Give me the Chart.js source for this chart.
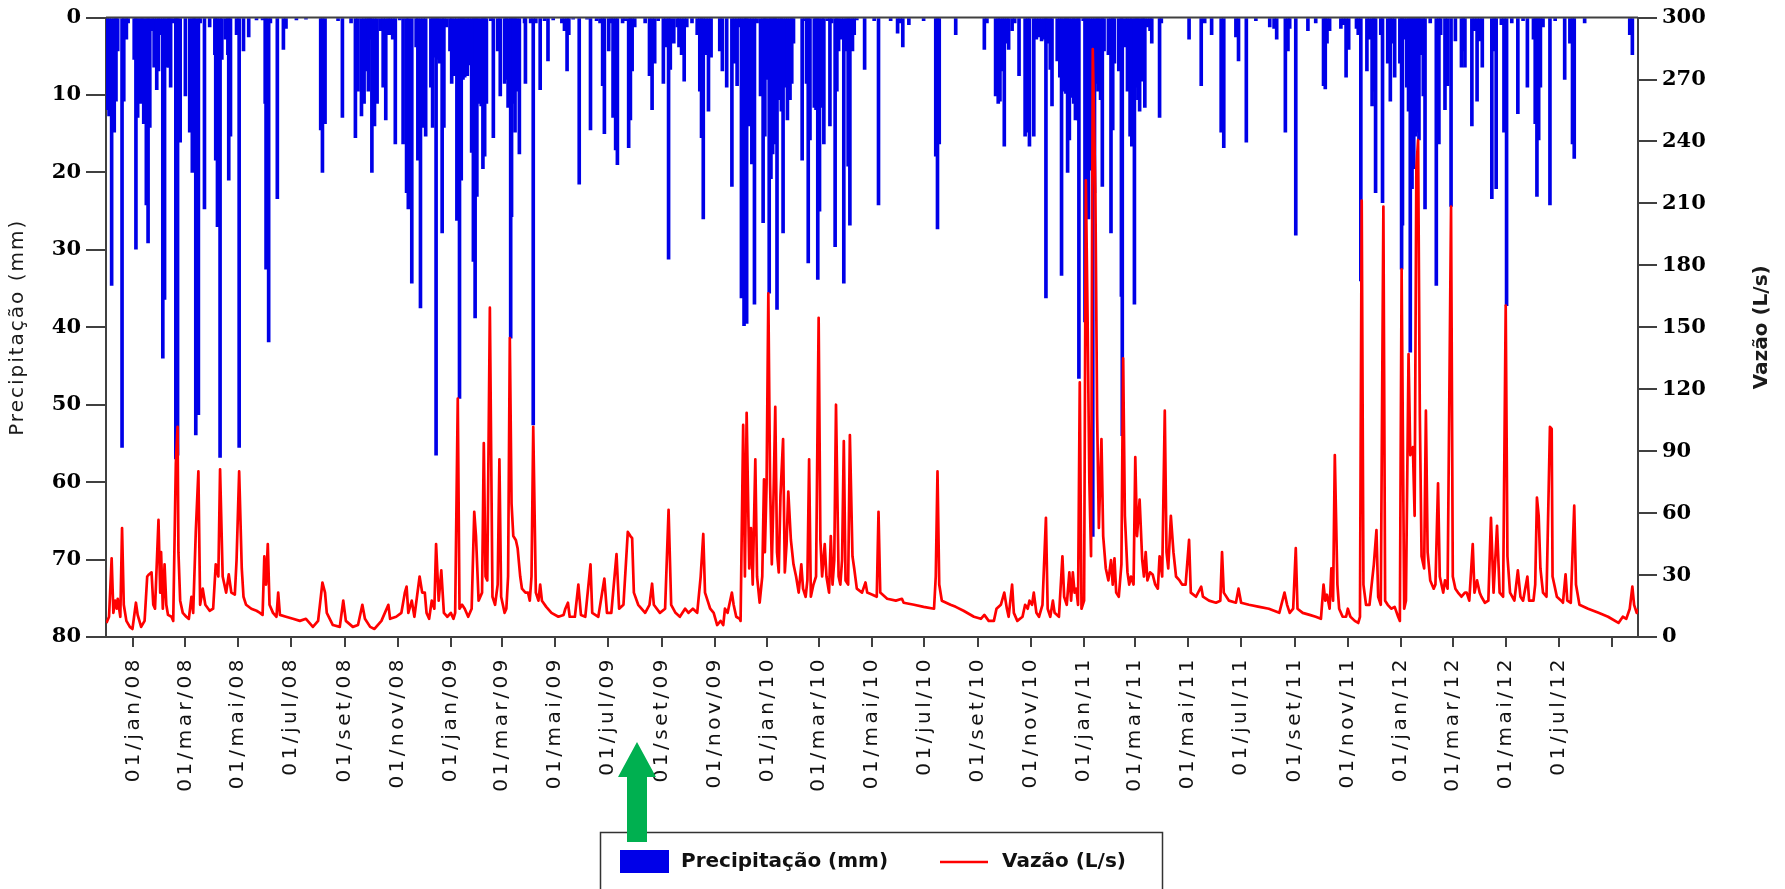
<!DOCTYPE html>
<html lang="pt">
<head>
<meta charset="utf-8">
<title>Precipitação e vazão</title>
<script src="https://cdn.jsdelivr.net/npm/chart.js@4.4.1/dist/chart.umd.min.js"></script>
<style>
  html, body { margin: 0; background: #fff; }
  canvas { display: block; }
</style>
</head>
<body>
<canvas id="chart" width="1785" height="889"></canvas>
<script>
"use strict";

// days are counted from 01/dez/2007 (day 0) to 30/set/2012 (day 1765)
const firstDate = Date.UTC(2007, 11, 1);
const lastDay = 1765;

const tickDates = [
  "2008-01-01", "2008-03-01", "2008-05-01", "2008-07-01", "2008-09-01", "2008-11-01",
  "2009-01-01", "2009-03-01", "2009-05-01", "2009-07-01", "2009-09-01", "2009-11-01",
  "2010-01-01", "2010-03-01", "2010-05-01", "2010-07-01", "2010-09-01", "2010-11-01",
  "2011-01-01", "2011-03-01", "2011-05-01", "2011-07-01", "2011-09-01", "2011-11-01",
  "2012-01-01", "2012-03-01", "2012-05-01", "2012-07-01", "2012-09-01",
];
const tickLabels = [
  "01/jan/08", "01/mar/08", "01/mai/08", "01/jul/08", "01/set/08", "01/nov/08",
  "01/jan/09", "01/mar/09", "01/mai/09", "01/jul/09", "01/set/09", "01/nov/09",
  "01/jan/10", "01/mar/10", "01/mai/10", "01/jul/10", "01/set/10", "01/nov/10",
  "01/jan/11", "01/mar/11", "01/mai/11", "01/jul/11", "01/set/11", "01/nov/11",
  "01/jan/12", "01/mar/12", "01/mai/12", "01/jul/12", "",
];

// Precipitação (mm)
const rainDay = [
  1, 3, 6, 9, 11, 13, 18, 20, 23, 25,
  32, 34, 36, 39, 41, 43, 46, 48, 50, 53,
  55, 58, 60, 62, 65, 67, 70, 72, 74, 77,
  80, 81, 82, 85, 91, 96, 99, 101, 103, 106,
  108, 113, 119, 125, 126, 128, 131, 133, 137, 140,
  141, 143, 150, 153, 158, 164, 173, 180, 183, 184,
  187, 189, 197, 204, 207, 219, 230, 247, 249, 252,
  267, 272, 282, 287, 290, 294, 297, 300, 302, 304,
  306, 309, 312, 316, 319, 322, 325, 327, 330, 333,
  338, 342, 346, 348, 352, 357, 359, 362, 365, 368,
  374, 376, 378, 380, 382, 384, 387, 389, 392, 396,
  398, 401, 404, 407, 409, 411, 413, 416, 418, 421,
  423, 425, 427, 429, 432, 434, 436, 438, 443, 446,
  451, 454, 459, 461, 463, 466, 467, 469, 471, 473,
  476, 482, 483, 489, 492, 495, 500, 505, 509, 515,
  525, 528, 531, 533, 538, 545, 554, 558, 565, 569,
  572, 574, 579, 582, 584, 587, 589, 595, 598, 602,
  604, 606, 609, 621, 626, 629, 632, 636, 642, 645,
  648, 650, 654, 658, 660, 663, 666, 669, 675, 681,
  684, 686, 688, 691, 694, 697, 707, 710, 715, 721,
  724, 727, 730, 732, 735, 737, 738, 741, 744, 747,
  750, 754, 757, 759, 761, 764, 766, 768, 770, 771,
  773, 776, 778, 780, 783, 785, 788, 790, 792, 802,
  805, 807, 809, 811, 816, 818, 820, 822, 825, 827,
  831, 834, 836, 840, 842, 844, 847, 850, 853, 855,
  857, 860, 862, 865, 874, 885, 890, 904, 912, 915,
  918, 925, 942, 956, 958, 960, 979, 1012, 1015, 1025,
  1028, 1030, 1033, 1035, 1038, 1040, 1044, 1047, 1052, 1059,
  1062, 1064, 1069, 1072, 1075, 1078, 1081, 1083, 1085, 1088,
  1090, 1096, 1099, 1101, 1104, 1106, 1108, 1110, 1113, 1115,
  1117, 1120, 1121, 1126, 1128, 1130, 1132, 1134, 1137, 1139,
  1142, 1143, 1146, 1148, 1150, 1155, 1158, 1160, 1162, 1167,
  1170, 1171, 1175, 1177, 1180, 1182, 1185, 1187, 1189, 1191,
  1194, 1195, 1197, 1200, 1203, 1205, 1214, 1216, 1248, 1262,
  1266, 1274, 1285, 1288, 1302, 1305, 1314, 1325, 1341, 1346,
  1349, 1359, 1362, 1364, 1371, 1385, 1394, 1403, 1405, 1407,
  1410, 1423, 1426, 1429, 1432, 1441, 1443, 1446, 1453, 1456,
  1459, 1461, 1463, 1469, 1471, 1477, 1480, 1482, 1485, 1491,
  1493, 1494, 1496, 1499, 1501, 1503, 1505, 1507, 1509, 1511,
  1513, 1515, 1518, 1520, 1526, 1533, 1536, 1538, 1543, 1546,
  1550, 1555, 1562, 1564, 1566, 1574, 1577, 1580, 1583, 1586,
  1597, 1600, 1602, 1608, 1611, 1614, 1620, 1627, 1633, 1638,
  1645, 1647, 1649, 1651, 1653, 1656, 1664, 1670, 1681, 1687,
  1690, 1692, 1704, 1756, 1759,
];
const rainMm = [
  11.9, 12.7, 34.6, 14.8, 10.8, 4.3, 55.5, 10.8, 2.8, 0.7,
  5.4, 29.9, 12.9, 11.1, 5.4, 13.7, 24.2, 29.1, 14.2, 1.7,
  6.4, 9.3, 6.9, 2.2, 44, 36.4, 6.4, 6.4, 9, 0.7,
  57, 54, 56.5, 16.1, 10.1, 14.8, 20, 2.8, 53.9, 51.3,
  0.7, 24.7, 1.2, 4.8, 18.4, 27, 56.8, 5.4, 2.8, 4.8,
  21, 15.3, 2.2, 55.5, 4.3, 2.5, 0.3, 0.3, 11.1, 32.5,
  41.9, 0.7, 23.4, 4.1, 1.4, 0.3, 0.2, 14.5, 20, 13.7,
  0.4, 12.9, 0.7, 15.5, 9.5, 12.7, 11.1, 6.9, 9.5, 2.8,
  20, 14, 11.1, 1.7, 9, 13.2, 2.2, 2.2, 2.8, 16.3,
  0.3, 16.3, 22.6, 24.7, 34.3, 3.8, 18.4, 37.5, 14.2, 15.3,
  9, 14.2, 5.1, 56.5, 5.4, 5.9, 27.8, 14.2, 1.2, 4.3,
  8.5, 7.5, 26.2, 49.2, 21, 8, 7.7, 7.5, 6.1, 17.4,
  31.5, 38.8, 23.1, 11.1, 11.4, 19.5, 17.9, 11.1, 0.4, 15.5,
  4.3, 10.1, 8.5, 8, 11.6, 41.4, 25.7, 11.1, 14.8, 9.5,
  17.6, 0.7, 8.5, 0.7, 52.6, 0.7, 9.3, 0.4, 5.6, 0.3,
  0.7, 1.7, 6.9, 2.2, 0.2, 21.5, 0.2, 14.5, 0.4, 0.7,
  8.8, 15, 4.3, 0.7, 12.9, 17.1, 19, 0.7, 0.4, 16.8,
  13.2, 6.9, 1.2, 0.7, 7.5, 11.9, 5.9, 0.4, 8.5, 3.8,
  31.2, 6.7, 3.3, 1.2, 3.8, 4.8, 8.2, 1.2, 0.7, 2.2,
  9.5, 15.5, 26, 4.8, 12.1, 5.1, 4.3, 6.9, 9, 21.8,
  5.9, 8.8, 1.2, 36.2, 39.8, 14.2, 39.5, 14, 18.9, 37,
  0.7, 10.1, 26.5, 15.3, 8, 35.6, 20.8, 17.6, 5.9, 16.3,
  37.7, 10.6, 12.1, 27.8, 9, 13.2, 10.6, 8.5, 3.3, 18.4,
  0.4, 8.5, 31.7, 15.8, 11.6, 11.9, 33.8, 25, 11.6, 16.3,
  0.4, 14, 0.7, 29.6, 9.5, 4.3, 2.8, 34.3, 4.3, 19.2,
  26.8, 4.3, 2.2, 0.3, 6.7, 0.4, 24.2, 0.4, 2, 0.7,
  3.8, 0.9, 0.4, 17.9, 27.3, 16.3, 2.2, 4.1, 0.7, 10.1,
  11.1, 10.8, 6.9, 16.6, 3.3, 4.1, 1.7, 0.7, 7.5, 15.3,
  14.8, 16.6, 15.3, 2.8, 2.5, 3, 2.8, 36.2, 3.3, 6.7,
  11.4, 5.6, 7.7, 33.3, 9.5, 9.8, 20, 15.8, 10.3, 11.1,
  13.2, 13.2, 46.6, 0.4, 39.3, 21, 26, 19.7, 67, 22.6,
  8.5, 9.5, 10.6, 21.8, 4.3, 4.8, 27.8, 14.5, 5.9, 6.9,
  36, 54, 3.8, 9.5, 15.3, 16.6, 37, 9, 10.6, 12.1,
  8.2, 5.4, 11.6, 1.2, 1.7, 3.3, 12.9, 0.7, 2.8, 8.8,
  0.7, 2.2, 14.8, 16.8, 2.5, 5.6, 16.1, 0.4, 1.2, 1.4,
  2.8, 14.8, 4.3, 1.4, 28.1, 1.7, 0.7, 8.8, 9.2, 3.3,
  1.7, 1.4, 0.9, 7.7, 4.1, 1.4, 2.2, 34, 6.9, 2.8,
  11.4, 9.5, 22.6, 2.2, 23.9, 5.9, 10.8, 3.3, 7.7, 5.9,
  32.5, 26.8, 2.8, 9, 12.1, 43.2, 22.1, 19.5, 15.3, 14.8,
  15.8, 4.8, 10.1, 24.7, 0.7, 34.6, 16.3, 2.2, 11.9, 8.8,
  24.4, 3, 6.4, 4.3, 6.4, 14, 1.7, 10.8, 3, 6.4,
  23.4, 4.3, 22.1, 0.9, 14.8, 37.2, 0.7, 12.4, 0.4, 9,
  2.8, 13.7, 23.1, 15.8, 9, 1.2, 24.2, 0.4, 8, 3.3,
  16.3, 18.2, 0.7, 2.2, 4.8,
];

// Vazão (L/s)
const flowDay = [
  0, 3, 6, 8, 10, 12, 13, 16, 18, 20,
  23, 27, 30, 34, 36, 40, 44, 47, 49, 52,
  54, 56, 60, 62, 63, 65, 67, 69, 71, 75,
  77, 80, 82, 83, 85, 88, 92, 95, 98, 100,
  103, 106, 108, 111, 114, 119, 123, 126, 129, 131,
  134, 138, 141, 144, 148, 150, 153, 156, 158, 161,
  167, 173, 177, 180, 182, 184, 186, 188, 192, 196,
  198, 200, 207, 215, 223, 230, 238, 244, 249, 252,
  254, 261, 269, 273, 276, 284, 290, 295, 298, 304,
  309, 317, 325, 327, 334, 340, 344, 346, 348, 352,
  355, 361, 364, 367, 369, 372, 375, 378, 380, 383,
  386, 389, 393, 397, 400, 402, 405, 407, 410, 413,
  417, 421, 424, 426, 429, 433, 435, 437, 439, 442,
  445, 448, 451, 453, 455, 459, 461, 463, 465, 467,
  469, 472, 474, 477, 479, 483, 486, 488, 490, 492,
  495, 498, 500, 502, 507, 513, 521, 527, 529, 532,
  534, 540, 544, 547, 552, 558, 560, 567, 574, 577,
  582, 588, 591, 596, 601, 604, 606, 608, 613, 621,
  626, 629, 631, 638, 644, 648, 651, 656, 661, 667,
  671, 676, 681, 685, 688, 690, 693, 696, 700, 704,
  708, 711, 713, 716, 718, 721, 723, 726, 730, 731,
  734, 736, 738, 741, 743, 745, 748, 750, 753, 756,
  758, 759, 761, 763, 765, 767, 769, 771, 773, 775,
  777, 780, 782, 784, 786, 789, 792, 795, 798, 801,
  803, 806, 808, 810, 812, 815, 818, 821, 823, 825,
  828, 830, 833, 835, 837, 839, 841, 844, 846, 848,
  850, 852, 855, 857, 860, 862, 865, 871, 875, 877,
  883, 888, 890, 892, 900, 910, 917, 919, 931, 942,
  954, 956, 958, 960, 963, 973, 979, 988, 1000, 1008,
  1012, 1017, 1023, 1026, 1031, 1035, 1038, 1040, 1044, 1046,
  1050, 1056, 1059, 1062, 1064, 1067, 1069, 1072, 1075, 1079,
  1083, 1085, 1088, 1091, 1093, 1098, 1102, 1104, 1107, 1110,
  1112, 1114, 1116, 1118, 1120, 1122, 1124, 1127, 1129, 1131,
  1133, 1135, 1137, 1140, 1142, 1144, 1147, 1149, 1152, 1155,
  1158, 1160, 1162, 1164, 1167, 1170, 1172, 1174, 1177, 1179,
  1181, 1184, 1186, 1188, 1191, 1194, 1196, 1198, 1200, 1203,
  1206, 1209, 1212, 1214, 1217, 1220, 1222, 1224, 1227, 1230,
  1233, 1237, 1240, 1244, 1248, 1250, 1256, 1262, 1264, 1271,
  1279, 1284, 1286, 1288, 1294, 1302, 1305, 1308, 1317, 1329,
  1340, 1352, 1358, 1361, 1364, 1368, 1371, 1373, 1379, 1387,
  1394, 1400, 1403, 1405, 1407, 1410, 1412, 1414, 1416, 1419,
  1421, 1425, 1429, 1431, 1434, 1439, 1443, 1445, 1447, 1449,
  1452, 1456, 1459, 1461, 1464, 1466, 1469, 1472, 1474, 1477,
  1481, 1485, 1489, 1491, 1493, 1496, 1498, 1501, 1503, 1506,
  1508, 1510, 1512, 1514, 1516, 1519, 1521, 1523, 1526, 1530,
  1532, 1535, 1537, 1541, 1543, 1546, 1550, 1552, 1555, 1558,
  1562, 1566, 1568, 1571, 1575, 1577, 1580, 1583, 1585, 1589,
  1593, 1596, 1599, 1603, 1606, 1610, 1613, 1615, 1618, 1623,
  1627, 1630, 1633, 1638, 1640, 1645, 1647, 1649, 1651, 1653,
  1656, 1660, 1664, 1666, 1667, 1672, 1677, 1679, 1682, 1684,
  1688, 1692, 1694, 1698, 1708, 1720, 1731, 1743, 1748, 1752,
  1756, 1759, 1761, 1764, 1765,
];
const flowLs = [
  6.8, 9.8, 38.1, 11.7, 17.6, 13.7, 18.5, 9.8, 52.8, 15.6,
  7.8, 4.9, 3.9, 16.6, 10.7, 4.9, 7.8, 29.3, 30.3, 31.3,
  15.6, 13.7, 56.7, 21.5, 41.1, 13.7, 35.2, 15.6, 10.7, 9.8,
  7.8, 84.1, 101.8, 41.1, 17.6, 11.7, 9.8, 8.8, 19.5, 11.7,
  50.9, 80.2, 15.6, 23.4, 15.6, 12.7, 13.7, 35.2, 29.3, 81.2,
  29.3, 21.5, 30.3, 21.5, 20.5, 37.2, 80.2, 33.2, 19.5, 15.6,
  13.7, 12.7, 11.7, 10.7, 39.1, 25.4, 45, 15.6, 11.7, 9.8,
  21.5, 10.7, 9.8, 8.8, 7.8, 8.8, 4.9, 7.8, 26.4, 21.5,
  11.7, 5.8, 4.9, 17.6, 7.8, 4.9, 5.8, 15.6, 8.8, 4.9,
  3.9, 7.8, 15.6, 8.8, 9.8, 11.7, 21.5, 24.4, 11.7, 17.6,
  9.8, 29.3, 21.5, 21.5, 11.7, 8.8, 17.6, 13.7, 45, 17.6,
  32.3, 11.7, 9.8, 11.7, 8.8, 11.7, 115.5, 13.7, 15.6, 13.7,
  9.8, 13.7, 60.6, 48.9, 17.6, 21.5, 93.9, 29.3, 27.4, 159.5,
  19.5, 15.6, 25.4, 86.1, 19.5, 11.7, 13.7, 29.3, 144.8, 64.6,
  48.9, 46.9, 43, 29.3, 23.4, 21.5, 21.5, 17.6, 29.3, 101.8,
  21.5, 17.6, 25.4, 17.6, 14.6, 11.7, 9.8, 10.7, 13.7, 16.6,
  9.8, 9.8, 25.4, 10.7, 9.8, 35.2, 11.7, 9.8, 28.3, 11.7,
  11.7, 40.1, 13.7, 15.6, 50.9, 48.9, 47.9, 21.5, 15.6, 11.7,
  15.6, 25.8, 15.6, 11.7, 13.7, 61.6, 15.6, 11.7, 9.8, 13.7,
  11.7, 13.7, 11.7, 29.3, 49.9, 21.5, 17.6, 13.7, 11.7, 5.8,
  7.8, 5.8, 13.7, 11.7, 15.6, 21.5, 15.6, 9.8, 8.8, 7.8,
  102.7, 29.3, 108.6, 33.2, 52.8, 25.4, 86.1, 29.3, 16.6, 29.3,
  76.3, 41.1, 74.4, 166.4, 74.4, 35.2, 68.5, 111.5, 41.1, 31.3,
  68.5, 95.9, 31.3, 45, 70.4, 47, 35.2, 29.3, 21.5, 35.2,
  23.4, 19.5, 27.4, 86.1, 19.5, 25.4, 29.3, 154.6, 47, 29.3,
  45, 29.3, 21.5, 48.9, 25.4, 37.2, 112.5, 29.3, 25.4, 37.2,
  94.9, 27.4, 25.4, 97.8, 39.1, 33.2, 23.4, 21.5, 26.4, 21.5,
  20.5, 19.5, 60.6, 21.5, 18.5, 17.6, 18.5, 16.6, 15.6, 14.6,
  13.7, 29.3, 80.2, 25.4, 17.6, 15.6, 14.6, 12.7, 9.8, 8.8,
  10.7, 7.8, 7.8, 13.7, 15.6, 21.5, 13.7, 9.8, 25.4, 11.7,
  7.8, 9.8, 15.6, 13.7, 17.6, 15.6, 21.5, 11.7, 9.8, 15.6,
  57.7, 13.7, 9.8, 17.6, 11.7, 9.8, 39.1, 19.5, 15.6, 31.3,
  17.6, 31.3, 21.5, 23.4, 15.6, 123.3, 13.7, 17.6, 221.2, 154.6,
  76.3, 39.1, 284.8, 215.3, 107.6, 52.8, 95.9, 48.9, 33.2, 27.4,
  37.2, 25.4, 38.1, 21.5, 19.5, 35.2, 135, 58.7, 31.3, 25.4,
  29.3, 25.4, 87.1, 48.9, 66.5, 37.2, 29.3, 41.1, 27.4, 31.3,
  30.3, 25.4, 23.4, 39.1, 29.3, 109.6, 41.1, 33.2, 58.7, 41.1,
  29.3, 27.4, 25.4, 25.4, 47, 21.5, 19.5, 24.4, 19.5, 17.6,
  16.6, 17.6, 41.1, 21.5, 17.6, 16.6, 23.4, 16.6, 15.6, 14.6,
  13.7, 11.7, 21.5, 15.6, 11.7, 13.7, 43, 13.7, 11.7, 10.7,
  9.8, 8.8, 25.4, 17.6, 20.5, 13.7, 33.2, 17.6, 88.1, 25.4,
  13.7, 9.8, 9.8, 13.7, 9.8, 7.8, 6.8, 9.8, 211.4, 25.4,
  15.6, 15.6, 27.4, 35.2, 51.8, 19.5, 15.6, 208.5, 17.6, 15.6,
  13.7, 14.6, 9.8, 7.8, 178.1, 13.7, 17.6, 137, 88.1, 92,
  58.7, 227.1, 240.7, 107.6, 39.1, 33.2, 109.6, 41.1, 27.4, 23.4,
  25.4, 74.4, 29.3, 21.5, 27.4, 23.4, 208.5, 29.3, 23.4, 21.5,
  19.5, 21.5, 21.5, 17.6, 45, 21.5, 27.4, 21.5, 19.5, 16.6,
  17.6, 57.7, 21.5, 53.8, 21.5, 19.5, 160.5, 39.1, 21.5, 17.6,
  32.3, 19.5, 17.6, 29.3, 17.6, 17.6, 25.4, 67.5, 58.7, 33.2,
  21.5, 19.5, 101.8, 100.8, 29.3, 19.5, 17.6, 16.6, 30.3, 17.6,
  16.6, 63.6, 25.4, 15.6, 13.7, 11.7, 9.8, 6.8, 9.8, 8.8,
  13.7, 24.4, 15.6, 11.7, 13.7,
];

const rainColor = "#0000e8";
const flowColor = "#ff0000";
const axisColor = "#404040";

const dayOf = (iso) => {
  const [y, m, d] = iso.split("-").map(Number);
  return Math.round((Date.UTC(y, m - 1, d) - firstDate) / 86400000);
};
const tickDays = tickDates.map(dayOf);

// the date labels of the original are widely spaced
const spacedLabels = {
  id: "spacedLabels",
  beforeDraw(chart) {
    const scale = chart.scales.x;
    if (scale._spaced) return;
    const drawLabels = scale.drawLabels.bind(scale);
    scale.drawLabels = (area) => {
      chart.ctx.save();
      chart.ctx.letterSpacing = "3.5px";
      drawLabels(area);
      chart.ctx.restore();
    };
    scale._spaced = true;
  },
};

const decor = {
  id: "decor",
  afterDraw(chart) {
    const { ctx, chartArea: area } = chart;
    const midY = (area.top + area.bottom) / 2;
    ctx.save();
    ctx.strokeStyle = axisColor;
    ctx.lineWidth = 2;
    ctx.beginPath();
    ctx.moveTo(area.left, area.top);
    ctx.lineTo(area.right, area.top);
    ctx.stroke();

    ctx.fillStyle = "#1a1a1a";
    ctx.textAlign = "center";
    ctx.textBaseline = "middle";
    ctx.save();
    ctx.translate(18, midY);
    ctx.rotate(-Math.PI / 2);
    ctx.font = '20px "DejaVu Sans"';
    ctx.letterSpacing = "2px";
    ctx.fillText("Precipitação (mm)", 0, 0);
    ctx.restore();
    ctx.save();
    ctx.translate(1762, midY);
    ctx.rotate(-Math.PI / 2);
    ctx.font = 'bold 20px "DejaVu Sans"';
    ctx.fillText("Vazão (L/s)", 0, 0);
    ctx.restore();

    // legend box
    ctx.strokeStyle = "#333";
    ctx.lineWidth = 1.5;
    ctx.strokeRect(600.5, 832.5, 562, 80);
    ctx.fillStyle = rainColor;
    ctx.fillRect(620, 850, 49, 23);
    ctx.strokeStyle = flowColor;
    ctx.lineWidth = 2.5;
    ctx.beginPath();
    ctx.moveTo(940, 862);
    ctx.lineTo(988, 862);
    ctx.stroke();
    ctx.fillStyle = "#111";
    ctx.font = 'bold 20px "DejaVu Sans"';
    ctx.textAlign = "left";
    ctx.fillText("Precipitação (mm)", 681, 862);
    ctx.fillText("Vazão (L/s)", 1002, 862);

    // green arrow
    ctx.fillStyle = "#00b050";
    ctx.beginPath();
    ctx.moveTo(637, 742);
    ctx.lineTo(656, 777);
    ctx.lineTo(647, 777);
    ctx.lineTo(647, 842);
    ctx.lineTo(627, 842);
    ctx.lineTo(627, 777);
    ctx.lineTo(618, 777);
    ctx.closePath();
    ctx.fill();
    ctx.restore();
  },
};

new Chart(document.getElementById("chart"), {
  type: "bar",
  data: {
    datasets: [
      {
        type: "line",
        label: "Vazão (L/s)",
        data: flowDay.map((day, i) => ({ x: day, y: flowLs[i] })),
        yAxisID: "y2",
        borderColor: flowColor,
        borderWidth: 2.7,
        borderJoinStyle: "round",
        pointRadius: 0,
        tension: 0,
        order: 1,
      },
      {
        type: "bar",
        label: "Precipitação (mm)",
        data: rainDay.map((day, i) => ({ x: day, y: rainMm[i] })),
        yAxisID: "y",
        backgroundColor: rainColor,
        barThickness: 3,
        order: 2,
      },
    ],
  },
  options: {
    responsive: false,
    animation: false,
    devicePixelRatio: 1,
    layout: { padding: { top: 17, left: 0, right: 0, bottom: 0 } },
    plugins: { legend: { display: false }, tooltip: { enabled: false } },
    scales: {
      x: {
        type: "linear",
        min: -0.5,
        max: lastDay + 0.5,
        offset: false,
        afterBuildTicks: (scale) => {
          scale.ticks = tickDays.map((value) => ({ value }));
        },
        afterFit: (scale) => {
          scale.height = 252;
        },
        ticks: {
          autoSkip: false,
          minRotation: 90,
          maxRotation: 90,
          padding: 9,
          color: "#111",
          font: { family: "DejaVu Sans", size: 20 },
          callback: (value, index) => tickLabels[index],
        },
        grid: { offset: false, drawOnChartArea: false, tickLength: 10, color: axisColor, lineWidth: 2 },
        border: { color: axisColor, width: 2 },
      },
      y: {
        position: "left",
        reverse: true,
        min: 0,
        max: 80,
        afterFit: (scale) => {
          scale.width = 106;
        },
        ticks: {
          stepSize: 10,
          padding: 5,
          color: "#000",
          font: { family: "DejaVu Serif", size: 21, weight: "bold" },
        },
        grid: { drawOnChartArea: false, tickLength: 20, color: axisColor, lineWidth: 2 },
        border: { color: axisColor, width: 2 },
      },
      y2: {
        position: "right",
        min: 0,
        max: 300,
        afterFit: (scale) => {
          scale.width = 147;
        },
        ticks: {
          stepSize: 30,
          padding: 5,
          color: "#000",
          font: { family: "DejaVu Serif", size: 21, weight: "bold" },
        },
        grid: { drawOnChartArea: false, tickLength: 19, color: axisColor, lineWidth: 2 },
        border: { color: axisColor, width: 2 },
      },
    },
  },
  plugins: [spacedLabels, decor],
});
</script>
</body>
</html>
